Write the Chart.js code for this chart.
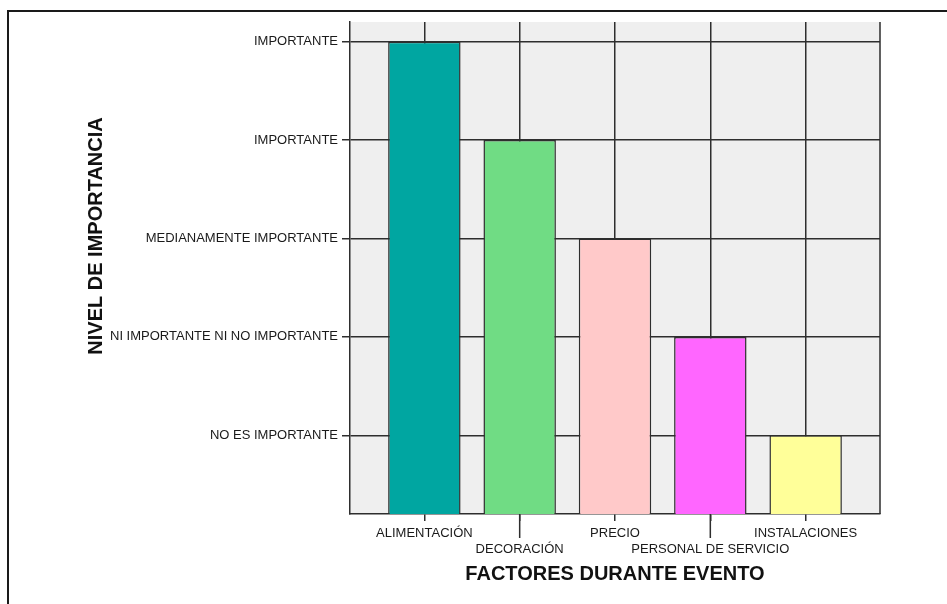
<!DOCTYPE html>
<html>
<head>
<meta charset="utf-8">
<script src="https://cdn.jsdelivr.net/npm/chart.js@4/dist/chart.umd.min.js"></script>
<style>
    html, body { margin: 0; padding: 0; background: #fff; overflow: hidden; }
    #wrap { position: relative; width: 947px; height: 604px; }
    #frame {
        position: absolute; left: 7px; top: 10px; width: 1200px; height: 900px;
        border-left: 2px solid #1a1a1a; border-top: 2px solid #1a1a1a;
    }
    canvas { position: absolute; left: 0; top: 0; }
</style>
</head>
<body>
<div id="wrap">
    <div id="frame"></div>
    <canvas id="factoresChart" width="947" height="604"></canvas>
</div>
<script>
const factores = ['ALIMENTACIÓN', 'DECORACIÓN', 'PRECIO', 'PERSONAL DE SERVICIO', 'INSTALACIONES'];
const nivel = [5, 4, 3, 2, 1];
const nivelLabels = ['NO ES IMPORTANTE', 'NI IMPORTANTE NI NO IMPORTANTE', 'MEDIANAMENTE IMPORTANTE', 'IMPORTANTE', 'IMPORTANTE'];
const barColors = ['#00A6A1', '#70DC84', '#FFC9C9', '#FF66FF', '#FFFF99'];

const fontFamily = "'Liberation Sans', Arial, sans-serif";
const lineColor = '#2e2e2e';

document.addEventListener('DOMContentLoaded', function() {
    const ctx = document.getElementById('factoresChart').getContext('2d');

    // fondo gris del area de trazado, borde derecho y marcas largas de las etiquetas alternas
    const plotDecor = {
        id: 'plotDecor',
        beforeDraw(chart) {
            const a = chart.chartArea;
            const c = chart.ctx;
            c.save();
            c.fillStyle = '#EFEFEF';
            c.fillRect(a.left, a.top, a.right - a.left, a.bottom - a.top);
            c.restore();
        },
        afterDraw(chart) {
            const a = chart.chartArea;
            const c = chart.ctx;
            const x = chart.scales.x;
            c.save();
            c.strokeStyle = lineColor;
            c.lineWidth = 1.5;
            c.beginPath();
            c.moveTo(a.right, a.top);
            c.lineTo(a.right, a.bottom);
            factores.forEach((f, i) => {
                if (i % 2 === 1) {
                    const px = x.getPixelForValue(i);
                    c.moveTo(px, a.bottom);
                    c.lineTo(px, a.bottom + 24);
                }
            });
            c.stroke();

            // titulo del eje Y
            c.fillStyle = '#111';
            c.font = 'bold 20px ' + fontFamily;
            c.textAlign = 'center';
            c.textBaseline = 'middle';
            c.translate(96, 236);
            c.rotate(-Math.PI / 2);
            c.fillText('NIVEL DE IMPORTANCIA', 0, 0);
            c.restore();
        }
    };

    const chartOptions = {
        type: 'bar',
        data: {
            datasets: [{
                data: nivel.map((v, i) => ({ x: i, y: v })),
                backgroundColor: barColors,
                borderColor: lineColor,
                borderWidth: 1.5,
                borderSkipped: false,
                barPercentage: 0.76,
                categoryPercentage: 1.0
            }]
        },
        options: {
            responsive: false,
            animation: false,
            layout: {
                padding: { left: 0, top: 22, right: 67, bottom: 10 }
            },
            scales: {
                x: {
                    type: 'linear',
                    offset: false,
                    min: -0.78,
                    max: 4.78,
                    afterFit: function(scale) { scale.height = 80; },
                    afterBuildTicks: function(scale) {
                        scale.ticks = factores.map((f, i) => ({ value: i }));
                    },
                    grid: {
                        offset: false,
                        color: lineColor,
                        lineWidth: 1.5,
                        tickLength: 7
                    },
                    border: { color: lineColor, width: 1.5 },
                    ticks: {
                        maxRotation: 0,
                        autoSkip: false,
                        padding: 5,
                        color: '#1a1a1a',
                        font: { family: fontFamily, size: 13 },
                        // etiquetas alternas bajan una linea
                        callback: function(value) {
                            const i = Math.round(value);
                            return i % 2 === 1 ? ['', factores[i]] : factores[i];
                        }
                    },
                    title: {
                        display: true,
                        text: 'FACTORES DURANTE EVENTO',
                        color: '#111',
                        padding: { top: 4, bottom: 8 },
                        font: { family: fontFamily, size: 20, weight: 'bold' }
                    }
                },
                y: {
                    min: 0.2,
                    max: 5.2,
                    afterFit: function(scale) { scale.width = 350; },
                    afterBuildTicks: function(scale) {
                        scale.ticks = nivelLabels.map((l, i) => ({ value: i + 1 }));
                    },
                    grid: {
                        color: lineColor,
                        lineWidth: 1.5,
                        tickLength: 8
                    },
                    border: { color: lineColor, width: 1.5 },
                    ticks: {
                        padding: 4,
                        color: '#1a1a1a',
                        font: { family: fontFamily, size: 13 },
                        callback: function(value) {
                            return nivelLabels[Math.round(value) - 1];
                        }
                    }
                }
            },
            plugins: {
                legend: { display: false },
                tooltip: { enabled: false }
            }
        },
        plugins: [plotDecor]
    };

    new Chart(ctx, chartOptions);
});
</script>
</body>
</html>
